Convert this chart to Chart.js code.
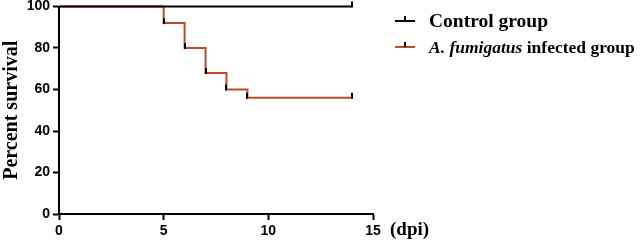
<!DOCTYPE html>
<html>
<head>
<meta charset="utf-8">
<script src="https://cdn.jsdelivr.net/npm/chart.js@4/dist/chart.umd.min.js"></script>
<style>
  html, body { margin: 0; padding: 0; background: #fff; }
  #wrap { width: 641px; height: 241px; }
</style>
</head>
<body>
<div id="wrap"><canvas id="survChart" width="641" height="241"></canvas></div>
<script>
// Kaplan-Meier survival data (days post infection vs percent survival)
const controlDays = [0, 14];
const controlSurvival = [100, 100];
const infectedDays = [0, 5, 6, 7, 8, 9, 14];
const infectedSurvival = [100, 92, 80, 68, 60, 56, 56];
const xTicks = [0, 5, 10, 15];
const yTicks = [0, 20, 40, 60, 80, 100];

const serif = '"Liberation Serif", "Times New Roman", serif';
const sans = '"Liberation Sans", Arial, sans-serif';
const red = '#BE4A2C';

// small black tick drawn above each step / censor point
const mark = document.createElement('canvas');
mark.width = 2;
mark.height = 12;
const mctx = mark.getContext('2d');
mctx.fillStyle = '#000';
mctx.fillRect(0, 1, 2, 6);

function toPoints(xs, ys) {
    return xs.map((x, i) => ({ x: x, y: ys[i] }));
}

// legend + "(dpi)" label drawn by hand (mixed italic text)
const extras = {
    id: 'extras',
    afterDraw(chart) {
        const c = chart.ctx;
        c.save();
        c.fillStyle = '#000';
        c.textBaseline = 'middle';
        c.font = 'bold 19px ' + serif;
        c.fillText('(dpi)', 390, 230);

        const rows = [
            { y: 21, size: 19.5, color: '#000', parts: [['bold', 'Control group']] },
            { y: 47, size: 17.5, color: red, parts: [['italic bold', 'A. fumigatus'], ['bold', ' infected group']] }
        ];
        rows.forEach(r => {
            c.strokeStyle = r.color;
            c.lineWidth = 2;
            c.beginPath();
            c.moveTo(395, r.y);
            c.lineTo(415, r.y);
            c.stroke();
            c.strokeStyle = '#000';
            c.beginPath();
            c.moveTo(405, r.y - 5);
            c.lineTo(405, r.y);
            c.stroke();
            let x = 429;
            r.parts.forEach(p => {
                c.font = p[0] + ' ' + r.size + 'px ' + serif;
                c.fillText(p[1], x, r.y + 1);
                x += c.measureText(p[1]).width;
            });
        });
        c.restore();
    }
};

new Chart(document.getElementById('survChart'), {
    type: 'line',
    data: {
        datasets: [{
            label: 'Control group',
            data: toPoints(controlDays, controlSurvival),
            borderColor: '#000',
            borderWidth: 2,
            stepped: true,
            pointStyle: mark,
            pointRadius: controlDays.map((d, i) => i === 0 ? 0 : 3),
            clip: false
        }, {
            label: 'A. fumigatus infected group',
            data: toPoints(infectedDays, infectedSurvival),
            borderColor: red,
            borderWidth: 2,
            stepped: true,
            pointStyle: mark,
            pointRadius: infectedDays.map((d, i) => i === 0 ? 0 : 3),
            clip: false
        }]
    },
    options: {
        responsive: false,
        animation: false,
        layout: { padding: { left: 0, right: 268, top: 0, bottom: 0 } },
        plugins: {
            legend: { display: false },
            tooltip: { enabled: false }
        },
        scales: {
            x: {
                type: 'linear',
                min: 0,
                max: 15,
                afterBuildTicks: s => { s.ticks = xTicks.map(v => ({ value: v })); },
                afterFit: s => { s.height = 27; },
                border: { color: '#000', width: 2 },
                grid: { drawOnChartArea: false, color: '#000', tickColor: '#000', tickWidth: 2, tickLength: 6 },
                ticks: { color: '#000', padding: 4, font: { family: sans, size: 14, weight: 'bold', lineHeight: 1 } }
            },
            y: {
                min: 0,
                max: 100,
                afterBuildTicks: s => { s.ticks = yTicks.map(v => ({ value: v })); },
                afterFit: s => { s.width = 59; s.paddingTop = 6.5; s.paddingBottom = 0; },
                border: { color: '#000', width: 2 },
                grid: { drawOnChartArea: false, color: '#000', tickColor: '#000', tickWidth: 2, tickLength: 6 },
                ticks: { color: '#000', padding: 3, font: { family: sans, size: 14, weight: 'bold', lineHeight: 1 } },
                title: {
                    display: true,
                    text: 'Percent survival',
                    color: '#000',
                    padding: 0,
                    font: { family: serif, size: 20, weight: 'bold' }
                }
            }
        }
    },
    plugins: [extras]
});
</script>
</body>
</html>
